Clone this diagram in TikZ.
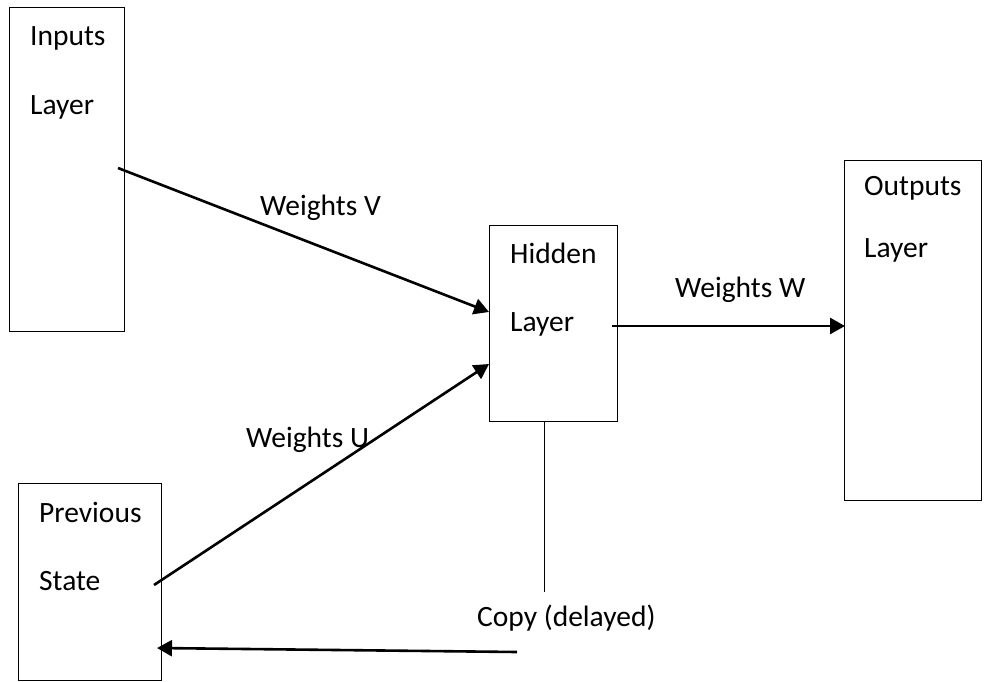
\documentclass[tikz,border=0pt]{standalone}
\usepackage{fontspec}
\setmainfont{Carlito}
\usetikzlibrary{arrows.meta}
\begin{document}
\begin{tikzpicture}[x=1pt,y=-1pt,
  layerbox/.style={draw=black,line width=1pt,fill=none},
  lbl/.style={anchor=base west,inner sep=0pt,font=\fontsize{29.5}{33}\selectfont},
  weightarrow/.style={line width=2.6pt,-{Triangle[length=15pt,width=16pt]}},
  thinline/.style={line width=1pt}]
\useasboundingbox (0,0) rectangle (985,681);

% layer boxes
\node[layerbox,minimum width=115pt,minimum height=324pt,anchor=north west] (inputs) at (9,7) {};
\node[layerbox,minimum width=128pt,minimum height=196pt,anchor=north west] (hidden) at (489,225) {};
\node[layerbox,minimum width=137pt,minimum height=340pt,anchor=north west] (outputs) at (844,160) {};
\node[layerbox,minimum width=143pt,minimum height=197pt,anchor=north west] (prev) at (18,483) {};

% box captions
\node[lbl] (inT1) at (30,45) {Inputs};
\node[lbl] (inT2) at (30,114) {Layer};
\node[lbl] (hiT1) at (510,263) {Hidden};
\node[lbl] (hiT2) at (510,331) {Layer};
\node[lbl] (ouT1) at (864,195) {Outputs};
\node[lbl] (ouT2) at (864,257) {Layer};
\node[lbl] (prT1) at (39,522) {Previous};
\node[lbl] (prT2) at (39,590) {State};

% connector labels
\node[lbl] (wV) at (260,215) {Weights V};
\node[lbl] (wW) at (675,297) {Weights W};
\node[lbl] (wU) at (246,447) {Weights U};
\node[lbl] (cpy) at (477,626) {Copy (delayed)};

% connector end points
\coordinate (vFrom) at (118,168);
\coordinate (vTo) at (489,312);
\coordinate (uFrom) at (154,585);
\coordinate (uTo) at (489,364);
\coordinate (wFrom) at (612,326);
\coordinate (wTo) at (845,326);
\coordinate (cTop) at (544,421);
\coordinate (cBot) at (544,592);
\coordinate (bFrom) at (517,652);
\coordinate (bTo) at (157,648);

% connectors
\draw[weightarrow] (vFrom) -- (vTo);
\draw[weightarrow] (uFrom) -- (uTo);
\draw[weightarrow] (wFrom) -- (wTo);
\draw[thinline] (cTop) -- (cBot);
\draw[weightarrow] (bFrom) -- (bTo);
\end{tikzpicture}
\end{document}
